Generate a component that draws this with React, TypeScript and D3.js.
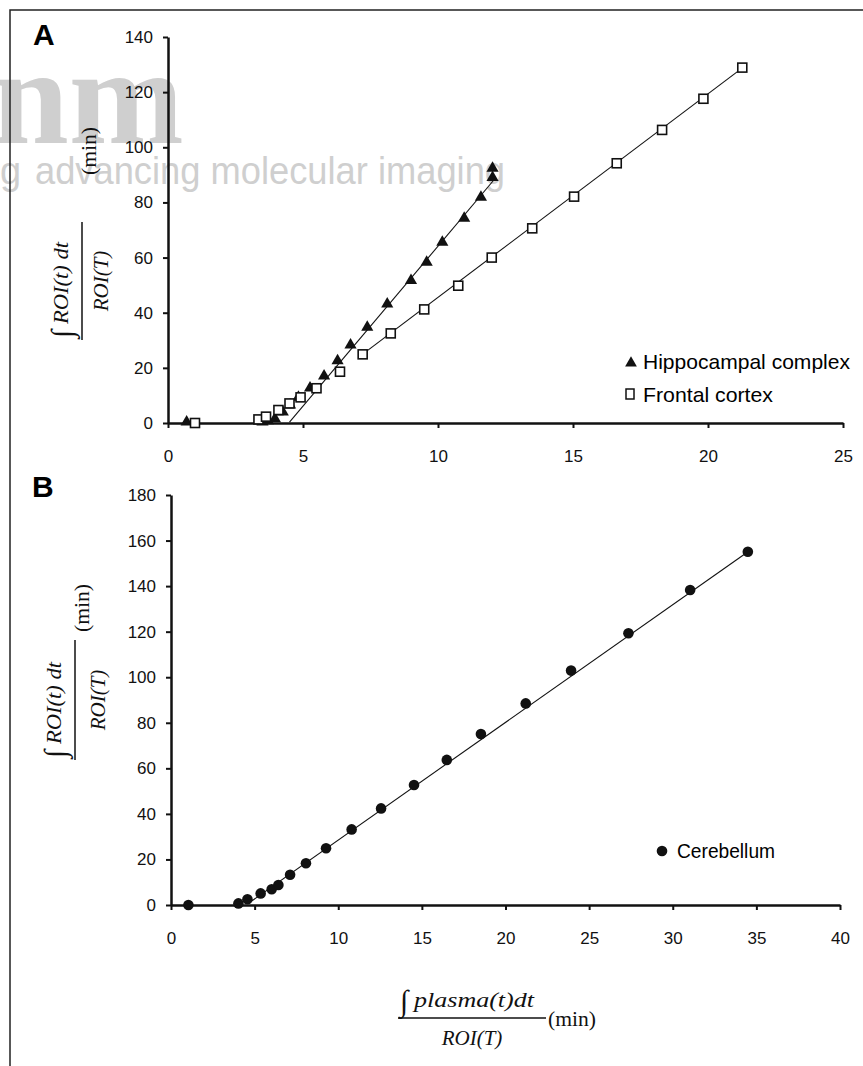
import * as d3 from "d3";
import React, { useEffect, useRef } from "react";

// panel A - hippocampal complex (filled triangles)
const hipX = [0.69, 3.5, 3.7, 3.96, 4.25, 4.52, 4.83, 5.26, 5.78, 6.28, 6.76, 7.38, 8.12, 9.0, 9.58, 10.16, 10.97, 11.59, 12.02, 12.02];
const hipY = [0, 0, 0.5, 1.2, 3.6, 6.2, 9, 12.3, 16.7, 22.2, 27.9, 34.4, 42.8, 51.3, 57.9, 65.2, 73.9, 81.5, 88.7, 92];
// panel A - frontal cortex (open squares)
const froX = [1.0, 3.35, 3.63, 4.09, 4.5, 4.91, 5.5, 6.37, 7.21, 8.25, 9.49, 10.75, 11.99, 13.49, 15.04, 16.62, 18.3, 19.83, 21.27];
const froY = [0, 1.3, 2.3, 4.7, 7.1, 9.3, 12.6, 18.6, 24.9, 32.5, 41.2, 49.8, 60, 70.6, 82.1, 94.2, 106.3, 117.6, 128.9];
// fitted lines (end points)
const hipFitX = [4.5, 12.1];
const hipFitY = [0.3, 88.5];
const froFitX = [7.2, 21.3];
const froFitY = [24.9, 129.0];

// panel B - cerebellum (filled circles)
const cerX = [1.04, 4.03, 4.57, 5.36, 6.02, 6.42, 7.12, 8.07, 9.27, 10.8, 12.56, 14.53, 16.49, 18.53, 21.21, 23.92, 27.35, 31.04, 34.49];
const cerY = [0, 0.7, 2.5, 5.1, 6.9, 8.8, 13.3, 18.3, 24.9, 33.2, 42.4, 52.7, 63.7, 75.1, 88.5, 102.9, 119.3, 138.3, 155.1];
const cerFitX = [4.6, 34.5];
const cerFitY = [0.6, 155.1];

// axis ticks
const aXTicks = [0, 5, 10, 15, 20, 25];
const aYTicks = [0, 20, 40, 60, 80, 100, 120, 140];
const bXTicks = [0, 5, 10, 15, 20, 25, 30, 35, 40];
const bYTicks = [0, 20, 40, 60, 80, 100, 120, 140, 160, 180];

const sans = "'Liberation Sans', Arial, sans-serif";
const serif = "'Liberation Serif', 'Times New Roman', serif";

const App = () => {
  const ref = useRef(null);

  useEffect(() => {
    const svg = d3.select(ref.current);
    svg.selectAll("*").remove();

    // watermark
    svg.append("text").attr("x", -8).attr("y", 143)
      .attr("font-family", serif).attr("font-weight", "bold").attr("font-size", 138)
      .attr("fill", "#cfcfcf").text("nm");
    svg.append("text").attr("x", 0).attr("y", 184)
      .attr("font-family", sans).attr("font-size", 38)
      .attr("fill", "#cfcfcf").text("g");
    svg.append("text").attr("x", 35).attr("y", 184)
      .attr("font-family", sans).attr("font-size", 38)
      .attr("textLength", 470).attr("lengthAdjust", "spacingAndGlyphs")
      .attr("fill", "#cfcfcf").text("advancing molecular imaging");

    // frame
    svg.append("path").attr("d", "M10,1066 L10,10 L863,10")
      .attr("fill", "none").attr("stroke", "#222").attr("stroke-width", 1.5);

    const drawAxes = (x, y, xt, yt) => {
      const gx = svg.append("g").attr("transform", `translate(0,${y.range()[0]})`)
        .call(d3.axisBottom(x).tickValues(xt).tickSize(5).tickSizeOuter(0).tickPadding(22));
      const gy = svg.append("g").attr("transform", `translate(${x.range()[0]},0)`)
        .call(d3.axisLeft(y).tickValues(yt).tickSize(5).tickSizeOuter(0).tickPadding(10));
      [gx, gy].forEach((g) => {
        g.select(".domain").attr("stroke", "#111").attr("stroke-width", 2.5);
        g.selectAll(".tick line").attr("stroke", "#111").attr("stroke-width", 2);
        g.selectAll(".tick text").attr("font-family", sans).attr("font-size", 17).attr("fill", "#111");
      });
    };

    const fitLine = (x, y, fx, fy) => {
      svg.append("path")
        .datum(fx.map((v, i) => [v, fy[i]]))
        .attr("fill", "none").attr("stroke", "#111").attr("stroke-width", 1.1)
        .attr("d", d3.line().x((d) => x(d[0])).y((d) => y(d[1])));
    };

    // fraction label, drawn in local coordinates
    const fraction = (g, o) => {
      g.append("line").attr("x1", -o.bar / 2).attr("x2", o.bar / 2)
        .attr("y1", 0).attr("y2", 0).attr("stroke", "#111").attr("stroke-width", 1.5);
      g.append("text").attr("x", -o.bar / 2 + 2).attr("y", o.numY + 4)
        .attr("font-family", serif).attr("font-size", 30).attr("fill", "#111").text("\u222B");
      g.append("text").attr("x", -o.bar / 2 + 16).attr("y", o.numY)
        .attr("font-family", serif).attr("font-style", "italic").attr("font-size", 20)
        .attr("textLength", o.numLen).attr("lengthAdjust", "spacingAndGlyphs")
        .attr("fill", "#111").text(o.num);
      g.append("text").attr("x", 0).attr("y", o.denY).attr("text-anchor", "middle")
        .attr("font-family", serif).attr("font-style", "italic").attr("font-size", 21)
        .attr("fill", "#111").text("ROI(T)");
      g.append("text").attr("x", o.minX).attr("y", o.minY)
        .attr("font-family", serif).attr("font-size", 21)
        .attr("textLength", 48).attr("lengthAdjust", "spacingAndGlyphs")
        .attr("fill", "#111").text("(min)");
    };

    // ---- panel A
    const xA = d3.scaleLinear().domain([0, 25]).range([168, 843]);
    const yA = d3.scaleLinear().domain([0, 140]).range([423, 37]);
    drawAxes(xA, yA, aXTicks, aYTicks);
    fitLine(xA, yA, hipFitX, hipFitY);
    fitLine(xA, yA, froFitX, froFitY);

    const tri = d3.symbol().type(d3.symbolTriangle).size(64);
    svg.append("g").selectAll("path").data(hipX).enter().append("path")
      .attr("d", tri).attr("fill", "#111")
      .attr("transform", (d, i) => `translate(${xA(d)},${yA(hipY[i]) - 1})`);
    svg.append("g").selectAll("rect").data(froX).enter().append("rect")
      .attr("x", (d) => xA(d) - 4.5).attr("y", (d, i) => yA(froY[i]) - 4.5)
      .attr("width", 9).attr("height", 9)
      .attr("fill", "white").attr("stroke", "#111").attr("stroke-width", 1.6);

    svg.append("text").attr("x", 33).attr("y", 45)
      .attr("font-family", sans).attr("font-weight", "bold").attr("font-size", 30).text("A");

    fraction(svg.append("g").attr("transform", "translate(82,281) rotate(-90)"), {
      bar: 118, numY: -14, numLen: 82, num: "ROI(t) dt", denY: 26, minX: 106, minY: 14,
    });

    // legend A
    svg.append("path").attr("d", d3.symbol().type(d3.symbolTriangle).size(60))
      .attr("transform", "translate(631,363)").attr("fill", "#111");
    svg.append("text").attr("x", 643).attr("y", 369)
      .attr("font-family", sans).attr("font-size", 21)
      .attr("textLength", 207).attr("lengthAdjust", "spacingAndGlyphs").text("Hippocampal complex");
    svg.append("rect").attr("x", 626).attr("y", 389).attr("width", 8).attr("height", 10)
      .attr("fill", "white").attr("stroke", "#111").attr("stroke-width", 1.5);
    svg.append("text").attr("x", 643).attr("y", 402)
      .attr("font-family", sans).attr("font-size", 21)
      .attr("textLength", 130).attr("lengthAdjust", "spacingAndGlyphs").text("Frontal cortex");

    // ---- panel B
    const xB = d3.scaleLinear().domain([0, 40]).range([171, 840]);
    const yB = d3.scaleLinear().domain([0, 180]).range([905, 495]);
    drawAxes(xB, yB, bXTicks, bYTicks);
    fitLine(xB, yB, cerFitX, cerFitY);
    svg.append("g").selectAll("circle").data(cerX).enter().append("circle")
      .attr("cx", (d) => xB(d)).attr("cy", (d, i) => yB(cerY[i]))
      .attr("r", 5.3).attr("fill", "#111");

    svg.append("text").attr("x", 32).attr("y", 497)
      .attr("font-family", sans).attr("font-weight", "bold").attr("font-size", 30).text("B");

    fraction(svg.append("g").attr("transform", "translate(75,700) rotate(-90)"), {
      bar: 120, numY: -14, numLen: 82, num: "ROI(t) dt", denY: 30, minX: 68, minY: 14,
    });

    // legend B
    svg.append("circle").attr("cx", 662).attr("cy", 851).attr("r", 5.3).attr("fill", "#111");
    svg.append("text").attr("x", 677).attr("y", 858)
      .attr("font-family", sans).attr("font-size", 20)
      .attr("textLength", 98).attr("lengthAdjust", "spacingAndGlyphs").text("Cerebellum");

    // x title B
    fraction(svg.append("g").attr("transform", "translate(472,1018)"), {
      bar: 148, numY: -11, numLen: 120, num: "plasma(t)dt", denY: 27, minX: 76, minY: 8,
    });
  }, []);

  return (
    <svg
      ref={ref}
      width={863}
      height={1066}
      style={{ position: "absolute", left: 0, top: 0, background: "white" }}
    />
  );
};

export default App;
